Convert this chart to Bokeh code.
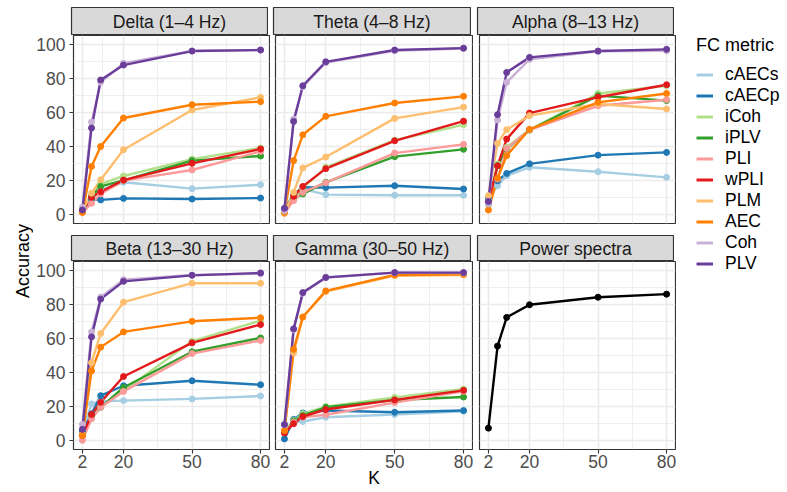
from bokeh.plotting import figure
from bokeh.models import FixedTicker, Range1d, Label, Legend, LegendItem
from bokeh.layouts import row, column
from bokeh.embed import file_html
from bokeh.resources import INLINE

# ---------------- data ----------------
K = [2, 6, 10, 20, 50, 80]
METRICS = ["cAECs", "cAECp", "iCoh", "iPLV", "PLI", "wPLI", "PLM", "AEC", "Coh", "PLV"]
COLORS = ["#A6CEE3", "#1F78B4", "#B2DF8A", "#33A02C", "#FB9A99",
          "#E31A1C", "#FDBF6F", "#FF7F00", "#CAB2D6", "#6A3D9A"]
PANEL_TITLES = ["Delta (1–4 Hz)", "Theta (4–8 Hz)", "Alpha (8–13 Hz)",
                "Beta (13–30 Hz)", "Gamma (30–50 Hz)", "Power spectra"]

DELTA = {
    "cAECs": [3.5, 9.3, 14.6, 19.1, 15.4, 17.7],
    "cAECp": [2.9, 9.3, 8.8, 9.7, 9.3, 9.9],
    "iCoh": [2.5, 11.3, 18.1, 22.8, 32.7, 39.2],
    "iPLV": [2.5, 10.7, 16.7, 20.2, 31.8, 34.5],
    "PLI": [1.5, 6.8, 12.3, 20.1, 26.3, 37.2],
    "wPLI": [2.5, 10.3, 13.6, 20.4, 30.2, 38.6],
    "PLM": [2.5, 12.7, 20.6, 38.2, 61.4, 68.8],
    "AEC": [1.5, 28.4, 40.1, 56.7, 64.5, 66.3],
    "Coh": [4.5, 54.4, 77.6, 88.8, 95.9, 96.5],
    "PLV": [2.9, 50.9, 79.0, 87.7, 95.9, 96.5],
}
THETA = {
    "cAECs": [2.5, 10.3, 15.2, 11.9, 11.5, 11.5],
    "cAECp": [3.5, 11.9, 16.2, 16.0, 17.1, 15.2],
    "iCoh": [2.1, 10.3, 15.8, 27.9, 43.8, 52.8],
    "iPLV": [2.1, 9.3, 12.3, 19.1, 34.1, 38.4],
    "PLI": [0.9, 8.4, 13.2, 18.9, 36.2, 41.3],
    "wPLI": [2.5, 10.9, 16.7, 27.1, 43.4, 54.9],
    "PLM": [0.9, 13.2, 27.5, 33.9, 56.5, 63.1],
    "AEC": [1.5, 31.8, 46.9, 57.7, 65.5, 69.4],
    "Coh": [2.5, 56.1, 75.0, 89.2, 96.1, 97.4],
    "PLV": [3.9, 54.7, 75.6, 89.6, 96.5, 97.6],
}
ALPHA = {
    "cAECs": [9.3, 17.1, 23.0, 27.9, 25.3, 22.0],
    "cAECp": [10.3, 20.0, 24.3, 29.9, 35.0, 36.6],
    "iCoh": [6.4, 29.8, 39.6, 49.7, 71.1, 75.6],
    "iPLV": [6.4, 28.8, 38.6, 49.7, 69.8, 66.9],
    "PLI": [7.9, 21.0, 38.9, 49.8, 63.9, 67.4],
    "wPLI": [7.4, 28.8, 44.4, 59.6, 68.9, 76.2],
    "PLM": [11.3, 41.9, 49.9, 58.1, 64.9, 62.0],
    "AEC": [2.9, 21.6, 34.7, 50.1, 65.9, 71.1],
    "Coh": [6.4, 55.6, 77.6, 91.0, 95.7, 96.1],
    "PLV": [7.9, 58.7, 83.4, 92.2, 95.9, 96.9],
}
BETA = {
    "cAECs": [6.2, 21.7, 23.2, 23.6, 24.6, 26.3],
    "cAECp": [5.2, 15.9, 26.5, 32.3, 35.2, 32.9],
    "iCoh": [3.3, 13.9, 19.7, 29.4, 58.4, 70.4],
    "iPLV": [3.3, 13.5, 19.7, 31.3, 52.2, 60.3],
    "PLI": [0.4, 13.0, 19.7, 29.0, 51.1, 58.8],
    "wPLI": [3.3, 15.5, 22.6, 37.7, 57.4, 68.1],
    "PLM": [3.9, 45.8, 62.9, 81.2, 92.3, 92.3],
    "AEC": [3.3, 41.0, 54.9, 63.8, 70.0, 72.1],
    "Coh": [9.7, 63.8, 84.1, 94.4, 97.1, 97.9],
    "PLV": [6.8, 60.9, 83.0, 93.4, 96.9, 98.3],
}
GAMMA = {
    "cAECs": [5.2, 11.0, 11.4, 13.9, 15.5, 17.4],
    "cAECp": [1.2, 12.6, 16.4, 17.8, 16.8, 17.8],
    "iCoh": [5.2, 12.0, 15.9, 20.1, 25.5, 30.4],
    "iPLV": [5.2, 11.6, 14.9, 19.7, 24.0, 25.7],
    "PLI": [5.2, 11.0, 13.9, 15.3, 22.4, 29.0],
    "wPLI": [4.6, 10.1, 14.3, 18.4, 24.0, 29.6],
    "PLM": [6.2, 51.6, 72.5, 87.4, 96.7, 97.1],
    "AEC": [6.2, 53.6, 72.5, 87.8, 97.1, 97.5],
    "Coh": [9.4, 65.0, 86.4, 95.5, 98.5, 98.3],
    "PLV": [9.7, 65.6, 86.8, 95.7, 98.5, 98.5],
}
POWER = [7.5, 55.5, 72.3, 79.7, 84.1, 85.9]

X_TICKS = [2, 20, 50, 80]
X_MINOR = [11, 35, 65]
Y_TICKS = [0, 20, 40, 60, 80, 100]
Y_MINOR = [10, 30, 50, 70, 90]

# ---------------- style ----------------
FONT = "Liberation Sans"
XR = (-1.9, 83.9)
YR = (-5.0, 105.0)
COL_LEFT = [38, 5, 6]
COL_FW = [196, 197, 196]
FH = 188
BOTTOM = 43
TOTAL_H = 35 + (FH + 11) + 27 + (FH + BOTTOM)
LAB_W = 33


def style_grid(p):
    p.xgrid.ticker = FixedTicker(ticks=X_TICKS, minor_ticks=X_MINOR)
    p.ygrid.ticker = FixedTicker(ticks=Y_TICKS, minor_ticks=Y_MINOR)
    for g in (p.xgrid, p.ygrid):
        g.grid_line_color = "#ebebeb"
        g.grid_line_width = 1.6
        g.minor_grid_line_color = "#ebebeb"
        g.minor_grid_line_width = 0.8


def make_strip(col, text, top_row):
    s = figure(frame_width=COL_FW[col], frame_height=28 if top_row else 26,
               x_range=Range1d(0, 1), y_range=Range1d(0, 1),
               x_axis_location=None, y_axis_location=None,
               min_border_left=COL_LEFT[col], min_border_right=1,
               min_border_top=7 if top_row else 1, min_border_bottom=0,
               output_backend="svg", toolbar_location=None, align="start")
    s.grid.visible = False
    s.background_fill_color = "#d9d9d9"
    s.outline_line_color = "#333333"
    s.outline_line_width = 1.2
    s.add_layout(Label(x=0.5, y=0.5, text=text, text_align="center",
                       text_baseline="middle", text_font=FONT,
                       text_font_size="17.6px", text_color="#1a1a1a"))
    return s


def make_panel(col, rowi):
    bottom = rowi == 1
    p = figure(frame_width=COL_FW[col], frame_height=FH,
               x_range=Range1d(*XR), y_range=Range1d(*YR),
               x_axis_location="below" if bottom else None,
               y_axis_location="left" if col == 0 else None,
               min_border_left=COL_LEFT[col], min_border_right=1,
               min_border_top=0, min_border_bottom=BOTTOM if bottom else 11,
               output_backend="svg", toolbar_location=None, align="start")
    style_grid(p)
    p.outline_line_color = "#333333"
    p.outline_line_width = 1.2
    if bottom:
        p.xaxis.ticker = FixedTicker(ticks=X_TICKS)
        p.xaxis.major_label_standoff = 1
    if col == 0:
        p.yaxis.ticker = FixedTicker(ticks=Y_TICKS)
        p.yaxis.major_label_standoff = 4
    for ax in p.axis:
        ax.axis_line_color = None
        ax.major_tick_line_color = "#333333"
        ax.major_tick_line_width = 1.1
        ax.major_tick_out = 4
        ax.major_tick_in = 0
        ax.minor_tick_line_color = None
        ax.major_label_text_font = FONT
        ax.major_label_text_font_size = "17.5px"
        ax.major_label_text_color = "#4d4d4d"
    return p


def add_series(p, data):
    for m, c in zip(METRICS, COLORS):
        p.line(K, data[m], line_color=c, line_width=2.4, line_join="round")
    for m, c in zip(METRICS, COLORS):
        p.scatter(K, data[m], color=c, size=6)


band_data = [DELTA, THETA, ALPHA, BETA, GAMMA]
strips = [make_strip(i % 3, t, i < 3) for i, t in enumerate(PANEL_TITLES)]
panels = [make_panel(i % 3, i // 3) for i in range(6)]
for p, d in zip(panels[:5], band_data):
    add_series(p, d)
panels[5].line(K, POWER, line_color="black", line_width=2.4, line_join="round")
panels[5].scatter(K, POWER, color="black", size=6)

# x-axis title under the middle bottom panel
ax_mid = panels[4].xaxis[0]
ax_mid.axis_label = "K"
ax_mid.axis_label_standoff = -3
ax_mid.axis_label_text_font = FONT
ax_mid.axis_label_text_font_size = "17.5px"
ax_mid.axis_label_text_font_style = "normal"
ax_mid.axis_label_text_color = "black"

# shared y-axis title: an empty axis whose frame spans both panel rows
lab = figure(width=LAB_W, height=TOTAL_H,
             x_range=Range1d(0, 1), y_range=Range1d(0, 1),
             x_axis_location=None, y_axis_location="left",
             min_border_left=LAB_W - 1, min_border_right=0, min_border_top=0, min_border_bottom=6,
             output_backend="svg", toolbar_location=None, align="start")
lab.grid.visible = False
lab.outline_line_color = None
lab.yaxis.ticker = FixedTicker(ticks=[])
lab.yaxis.axis_line_color = None
lab.yaxis.major_tick_line_color = None
lab.yaxis.minor_tick_line_color = None
lab.yaxis.major_tick_out = 0
lab.yaxis.major_label_standoff = 0
lab.yaxis.axis_label = "Accuracy"
lab.yaxis.axis_label_standoff = 0
lab.yaxis.axis_label_text_font = FONT
lab.yaxis.axis_label_text_font_size = "18px"
lab.yaxis.axis_label_text_font_style = "normal"
lab.yaxis.axis_label_text_color = "black"

# legend figure: the series are drawn outside its visible range, only the legend shows
lg = figure(width=113, height=TOTAL_H, x_range=Range1d(-1, 0), y_range=Range1d(-1, 0),
            x_axis_location=None, y_axis_location=None,
            min_border_left=20, min_border_right=0, min_border_top=35, min_border_bottom=0,
            output_backend="svg", toolbar_location=None, align="start")
lg.grid.visible = False
lg.outline_line_color = None
items = []
for m, c in zip(METRICS, COLORS):
    r = lg.line(K, ALPHA[m], line_color=c, line_width=3)
    items.append(LegendItem(label=m, renderers=[r]))
legend = Legend(items=items, location="top_left", title="FC metric",
                padding=0, margin=0, border_line_color=None, background_fill_alpha=0,
                glyph_width=17, glyph_height=19, label_height=19, label_standoff=12,
                spacing=0, title_standoff=8,
                label_text_font=FONT, label_text_font_size="17.5px", label_text_color="black",
                title_text_font=FONT, title_text_font_size="18px",
                title_text_font_style="normal", title_text_color="black")
lg.add_layout(legend)

grid = column(row(*strips[:3], align="start"), row(*panels[:3], align="start"),
              row(*strips[3:], align="start"), row(*panels[3:], align="start"), align="start")
layout = row(lab, grid, lg, align="start")

open("out.html", "w").write(file_html(layout, INLINE, title="FC metric accuracy"))
